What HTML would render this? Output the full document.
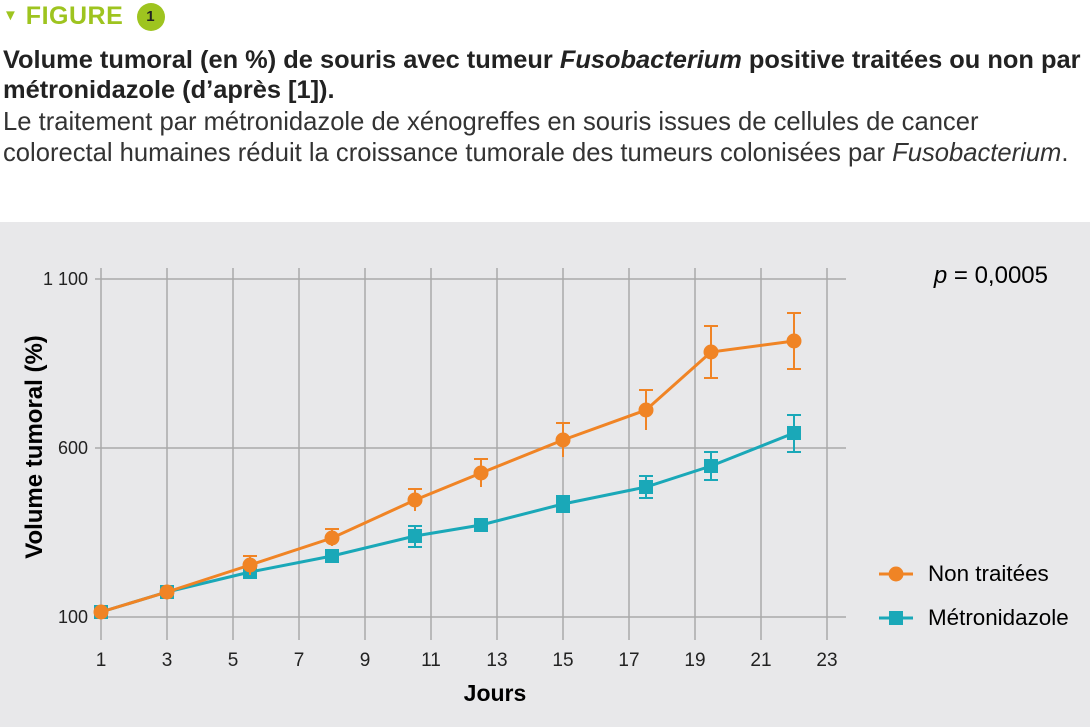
<!DOCTYPE html>
<html><head><meta charset="utf-8"><style>
body{margin:0;width:1090px;height:727px;background:#fff;font-family:"Liberation Sans",Arial,sans-serif;overflow:hidden;position:relative;color:#222}
.t{position:absolute;left:3px;white-space:nowrap}
</style></head><body>
<div class="t" style="top:2px;font-size:25px;font-weight:bold;color:#9ec41f;letter-spacing:0.5px">
<span style="font-size:15px;vertical-align:4px">▼</span> FIGURE
<span style="display:inline-block;width:28px;height:28px;border-radius:50%;background:#9ec41f;color:#222;font-size:15px;text-align:center;line-height:28px;vertical-align:3px;margin-left:6px">1</span></div>
<div class="t" style="top:45px;font-size:25.4px;font-weight:bold;line-height:30px">Volume tumoral (en %) de souris avec tumeur <i>Fusobacterium</i> positive traitées ou non par<br>métronidazole (d’après [1]).</div>
<div class="t" style="top:107px;font-size:25.6px;line-height:31px;color:#333">Le traitement par métronidazole de xénogreffes en souris issues de cellules de cancer<br>colorectal humaines réduit la croissance tumorale des tumeurs colonisées par <i>Fusobacterium</i>.</div>
<svg style="position:absolute;left:0;top:222px" width="1090" height="505" viewBox="0 222 1090 505" font-family="Liberation Sans, Arial, sans-serif">
<rect x="0" y="222" width="1090" height="505" fill="#e8e8ea"/>
<g stroke="#a9a9a9" stroke-width="1.5">
<line x1="95" y1="279" x2="846" y2="279"/><line x1="95" y1="448" x2="846" y2="448"/><line x1="95" y1="617" x2="846" y2="617"/>
<line x1="101" y1="268" x2="101" y2="640"/><line x1="167" y1="268" x2="167" y2="640"/><line x1="233" y1="268" x2="233" y2="640"/><line x1="299" y1="268" x2="299" y2="640"/><line x1="365" y1="268" x2="365" y2="640"/><line x1="431" y1="268" x2="431" y2="640"/><line x1="497" y1="268" x2="497" y2="640"/><line x1="563" y1="268" x2="563" y2="640"/><line x1="629" y1="268" x2="629" y2="640"/><line x1="695" y1="268" x2="695" y2="640"/><line x1="761" y1="268" x2="761" y2="640"/><line x1="827" y1="268" x2="827" y2="640"/>
</g>
<g font-size="18" fill="#222" text-anchor="end"><text x="88" y="285">1 100</text><text x="88" y="454">600</text><text x="88" y="623">100</text></g>
<g font-size="19" fill="#222" text-anchor="middle"><text x="101" y="666">1</text><text x="167" y="666">3</text><text x="233" y="666">5</text><text x="299" y="666">7</text><text x="365" y="666">9</text><text x="431" y="666">11</text><text x="497" y="666">13</text><text x="563" y="666">15</text><text x="629" y="666">17</text><text x="695" y="666">19</text><text x="761" y="666">21</text><text x="827" y="666">23</text></g>
<text x="495" y="701" font-size="23" font-weight="bold" text-anchor="middle">Jours</text>
<text transform="translate(42,447) rotate(-90)" font-size="24" font-weight="bold" text-anchor="middle">Volume tumoral (%)</text>
<text x="1048" y="283" font-size="24" text-anchor="end"><tspan font-style="italic">p</tspan> = 0,0005</text>
<g stroke="#1aa8b8" stroke-width="2"><path d="M415 526V547M408 526H422M408 547H422M481 519V531M474 519H488M474 531H488M563 496V512M556 496H570M556 512H570M646 476V498M639 476H653M639 498H653M711 452V480M704 452H718M704 480H718M794 415V452M787 415H801M787 452H801"/></g>
<polyline fill="none" stroke="#1aa8b8" stroke-width="3" points="101,612 167,592 250,572 332,556 415,536 481,525 563,504 646,487 711,466 794,433"/>
<g fill="#1aa8b8"><rect x="94" y="605" width="14" height="14"/><rect x="160" y="585" width="14" height="14"/><rect x="243" y="565" width="14" height="14"/><rect x="325" y="549" width="14" height="14"/><rect x="408" y="529" width="14" height="14"/><rect x="474" y="518" width="14" height="14"/><rect x="556" y="497" width="14" height="14"/><rect x="639" y="480" width="14" height="14"/><rect x="704" y="459" width="14" height="14"/><rect x="787" y="426" width="14" height="14"/></g>
<g stroke="#f08425" stroke-width="2"><path d="M250 556V575M243 556H257M332 529V546M325 529H339M415 489V511M408 489H422M481 459V487M474 459H488M563 423V457M556 423H570M646 390V430M639 390H653M711 326V378M704 326H718M704 378H718M794 313V369M787 313H801M787 369H801"/></g>
<polyline fill="none" stroke="#f08425" stroke-width="3" points="101,612 167,592 250,565 332,538 415,500 481,473 563,440 646,410 711,352 794,341"/>
<g fill="#f08425"><circle cx="101" cy="612" r="7.5"/><circle cx="167" cy="592" r="7.5"/><circle cx="250" cy="565" r="7.5"/><circle cx="332" cy="538" r="7.5"/><circle cx="415" cy="500" r="7.5"/><circle cx="481" cy="473" r="7.5"/><circle cx="563" cy="440" r="7.5"/><circle cx="646" cy="410" r="7.5"/><circle cx="711" cy="352" r="7.5"/><circle cx="794" cy="341" r="7.5"/></g>
<line x1="879" y1="574" x2="913" y2="574" stroke="#f08425" stroke-width="3"/><circle cx="896" cy="574" r="7.5" fill="#f08425"/>
<text x="928" y="581" font-size="22.4">Non traitées</text>
<line x1="879" y1="618" x2="913" y2="618" stroke="#1aa8b8" stroke-width="3"/><rect x="889" y="611" width="14" height="14" fill="#1aa8b8"/>
<text x="928" y="625" font-size="22.4">Métronidazole</text>
</svg>
</body></html>
